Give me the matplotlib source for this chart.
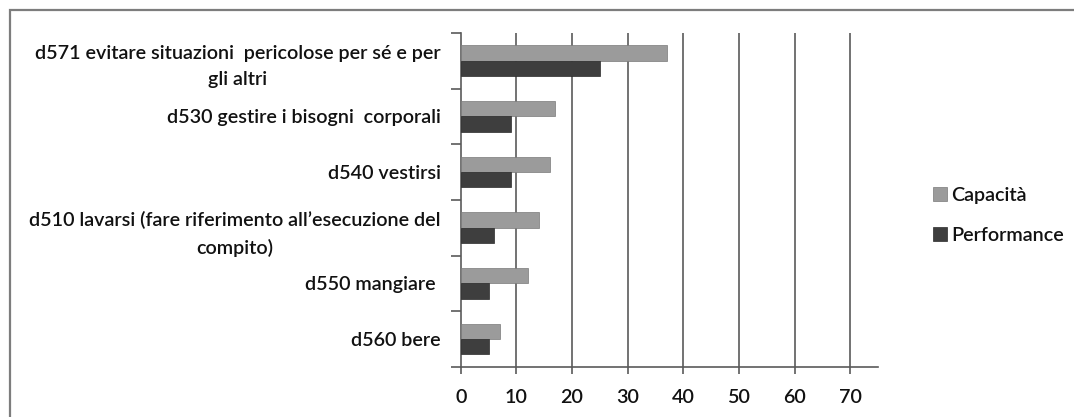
import matplotlib
matplotlib.use("Agg")
import matplotlib.pyplot as plt
from matplotlib.patches import Rectangle
import numpy as np

plt.rcParams['font.family'] = ['Lato', 'DejaVu Sans']
plt.rcParams['font.weight'] = 'semibold'

categories = [
    "d571 evitare situazioni  pericolose per sé e per\ngli altri",
    "d530 gestire i bisogni  corporali",
    "d540 vestirsi",
    "d510 lavarsi (fare riferimento all\u2019esecuzione del\ncompito)",
    "d550 mangiare ",
    "d560 bere",
]
capacita = [37, 17, 16, 14, 12, 7]
performance = [25, 9, 9, 6, 5, 5]
series_names = ["Capacità", "Performance"]
x_ticks = [0, 10, 20, 30, 40, 50, 60, 70]

light = "#9b9b9b"
dark = "#3e3e3e"
line_col = "#5a5a5a"
text_col = "#111111"
fs = 14.2

fig = plt.figure(figsize=(10.74, 4.17), dpi=100)
ax = fig.add_axes([0.429, 0.12, 0.3885, 0.801])

y = np.arange(len(categories))
h = 0.275
ax.barh(y - h / 2, capacita, height=h, color=light, edgecolor="#7a7a7a",
        linewidth=0.5, label=series_names[0], zorder=3)
ax.barh(y + h / 2, performance, height=h, color=dark, edgecolor="#2a2a2a",
        linewidth=0.5, label=series_names[1], zorder=3)

ax.set_xlim(0, 75)
ax.set_ylim(len(categories) - 0.5, -0.5)

# vertical gridlines
for v in x_ticks[1:]:
    ax.axvline(v, color=line_col, lw=1.2, zorder=1)

for s in ["top", "right"]:
    ax.spines[s].set_visible(False)
for s in ["left", "bottom"]:
    ax.spines[s].set_color(line_col)
    ax.spines[s].set_linewidth(1.2)

ax.set_xticks(x_ticks)
ax.set_xticklabels([str(v) for v in x_ticks])
ax.tick_params(axis="x", length=5, width=1.2, color=line_col, pad=11,
               labelsize=fs, labelcolor=text_col)

# category boundary ticks (major) and labels at centers (minor)
ax.set_yticks(np.arange(-0.5, len(categories), 1.0))
ax.set_yticklabels([])
ax.tick_params(axis="y", which="major", length=7, width=1.2, color=line_col)
ax.set_yticks(y, minor=True)
ax.set_yticklabels(categories, minor=True)
ax.tick_params(axis="y", which="minor", length=0, pad=14.5,
               labelsize=fs, labelcolor=text_col)
for lbl in ax.get_yticklabels(minor=True):
    lbl.set_multialignment("center")
    lbl.set_linespacing(1.65)

leg = fig.legend(loc="upper left", bbox_to_anchor=(0.852, 0.595),
                 frameon=False, fontsize=fs, handlelength=0.7,
                 handleheight=0.7, handletextpad=0.25, labelspacing=1.2,
                 labelcolor=text_col)

# outer chart frame
fig.patches.append(Rectangle((10 / 1074, -0.05), 1.2, 1 - 10 / 417 + 0.05,
                             transform=fig.transFigure, fill=False,
                             edgecolor="#7d7d7d", lw=1.6))

fig.savefig("out.png", dpi=100)
